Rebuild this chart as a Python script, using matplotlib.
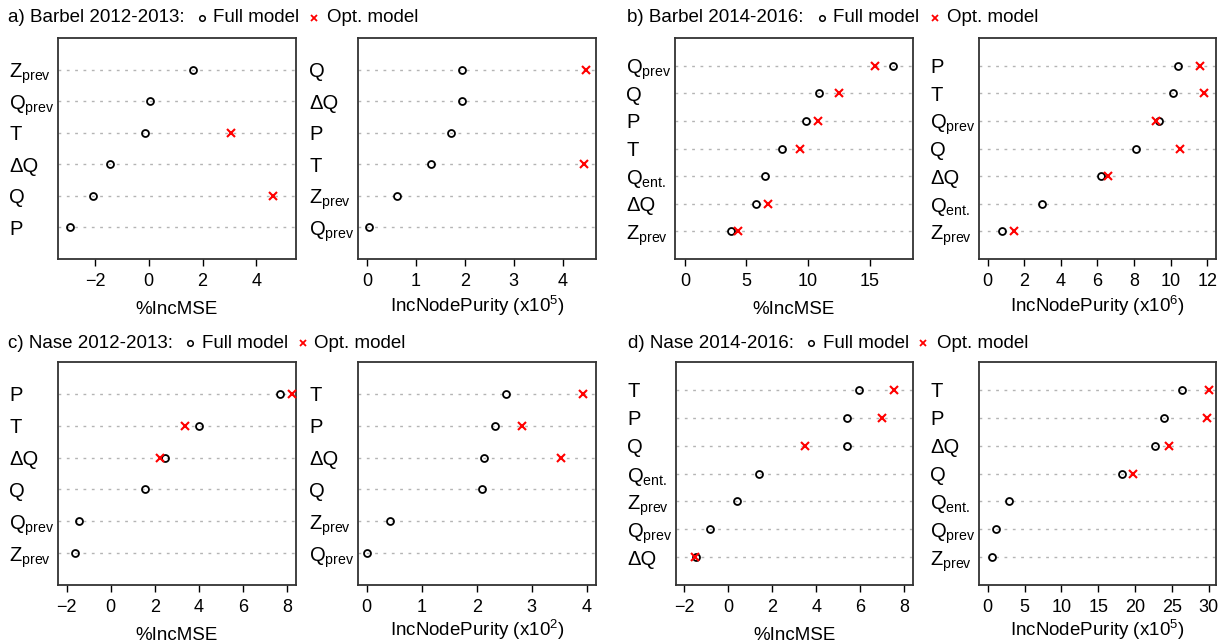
import numpy as np
import matplotlib
matplotlib.use("Agg")
import matplotlib.pyplot as plt
from matplotlib.transforms import ScaledTranslation

plt.rcParams["font.family"] = ["Liberation Sans", "DejaVu Sans"]
plt.rcParams["mathtext.fontset"] = "custom"
plt.rcParams["mathtext.rm"] = "Liberation Sans"

nan = np.nan

# variable order is top row first
a_mse_vars = ["Zprev", "Qprev", "T", "dQ", "Q", "P"]
a_mse_full = [1.65, 0.04, -0.14, -1.44, -2.06, -2.93]
a_mse_opt = [nan, nan, 3.05, nan, 4.62, nan]
a_pur_vars = ["Q", "dQ", "P", "T", "Zprev", "Qprev"]
a_pur_full = [1.95, 1.94, 1.71, 1.32, 0.62, 0.035]
a_pur_opt = [4.47, nan, nan, 4.43, nan, nan]

b_mse_vars = ["Qprev", "Q", "P", "T", "Qent", "dQ", "Zprev"]
b_mse_full = [16.9, 10.93, 9.85, 7.92, 6.54, 5.78, 3.74]
b_mse_opt = [15.46, 12.5, 10.77, 9.36, nan, 6.76, 4.34]
b_pur_vars = ["P", "T", "Qprev", "Q", "dQ", "Qent", "Zprev"]
b_pur_full = [10.38, 10.13, 9.38, 8.09, 6.17, 2.98, 0.76]
b_pur_opt = [11.6, 11.8, 9.18, 10.49, 6.59, nan, 1.45]

c_mse_vars = ["P", "T", "dQ", "Q", "Qprev", "Zprev"]
c_mse_full = [7.67, 4.01, 2.45, 1.55, -1.44, -1.64]
c_mse_opt = [8.26, 3.36, 2.23, nan, nan, nan]
c_pur_vars = ["T", "P", "dQ", "Q", "Zprev", "Qprev"]
c_pur_full = [2.53, 2.34, 2.13, 2.10, 0.43, 0.01]
c_pur_opt = [3.93, 2.83, 3.53, nan, nan, nan]

d_mse_vars = ["T", "P", "Q", "Qent", "Zprev", "Qprev", "dQ"]
d_mse_full = [5.95, 5.41, 5.38, 1.38, 0.39, -0.82, -1.45]
d_mse_opt = [7.52, 6.98, 3.5, nan, nan, nan, -1.53]
d_pur_vars = ["T", "P", "dQ", "Q", "Qent", "Qprev", "Zprev"]
d_pur_full = [26.38, 23.89, 22.71, 18.27, 2.89, 1.13, 0.63]
d_pur_opt = [30.0, 29.81, 24.61, 19.77, nan, nan, nan]

LABELS = {
    "Zprev": r"$\mathregular{Z_{prev}}$",
    "Qprev": r"$\mathregular{Q_{prev}}$",
    "Qent": r"$\mathregular{Q_{ent.}}$",
    "dQ": "\u0394Q",
    "Q": "Q",
    "P": "P",
    "T": "T",
}

W, H = 1227, 642
fig = plt.figure(figsize=(W / 100, H / 100), dpi=100)


def add_axes_px(x0, y0, x1, y1):
    return fig.add_axes([x0 / W, 1 - y1 / H, (x1 - x0) / W, (y1 - y0) / H])


def dotchart(ax, names, full, opt, xlim, xticks, xlabel, label_drop):
    n = len(names)
    ypos = np.arange(n, 0, -1)
    for y in ypos:
        ax.axhline(y, color="#b4b4b4", lw=1.0, ls=(0, (2, 4)), zorder=1)
    ax.plot(full, ypos, "o", ms=5, mfc="none", mec="black", mew=1.3, zorder=3)
    ax.plot(opt, ypos, "x", ms=6, mec="red", mew=1.5, zorder=4)
    ax.set_xlim(*xlim)
    ax.set_ylim(0, n + 1)
    ax.set_xticks(xticks)
    ax.set_yticks(ypos)
    ax.set_yticklabels([LABELS[v] for v in names], fontsize=14.5, ha="left")
    ax.tick_params(axis="y", length=0, pad=35)
    ax.tick_params(axis="x", length=5, width=1.0, pad=5, labelsize=13)
    # x label placed by baseline a fixed distance below the frame
    shift = ScaledTranslation(0, -label_drop / 100, fig.dpi_scale_trans)
    ax.text(0.5, 0, xlabel, transform=ax.transAxes + shift, ha="center",
            va="baseline", fontsize=13.5)
    for sp in ax.spines.values():
        sp.set_linewidth(1.3)
        sp.set_color("#333333")


mse_label = "%IncMSE"

ax = add_axes_px(58, 38, 296, 259)
dotchart(ax, a_mse_vars, a_mse_full, a_mse_opt, (-3.37, 5.47), [-2, 0, 2, 4],
         mse_label, 55)
ax = add_axes_px(358, 38, 596, 259)
dotchart(ax, a_pur_vars, a_pur_full, a_pur_opt, (-0.18, 4.68), [0, 1, 2, 3, 4],
         r"IncNodePurity (x10$\mathregular{^5}$)", 53)
ax = add_axes_px(675, 38, 913, 259)
dotchart(ax, b_mse_vars, b_mse_full, b_mse_opt, (-0.81, 18.53), [0, 5, 10, 15],
         mse_label, 55)
ax = add_axes_px(979, 38, 1216, 259)
dotchart(ax, b_pur_vars, b_pur_full, b_pur_opt, (-0.47, 12.47), list(range(0, 13, 2)),
         r"IncNodePurity (x10$\mathregular{^6}$)", 53)

ax = add_axes_px(58, 362, 296, 585)
dotchart(ax, c_mse_vars, c_mse_full, c_mse_opt, (-2.40, 8.42), [-2, 0, 2, 4, 6, 8],
         mse_label, 55)
ax = add_axes_px(358, 362, 596, 585)
dotchart(ax, c_pur_vars, c_pur_full, c_pur_opt, (-0.16, 4.17), [0, 1, 2, 3, 4],
         r"IncNodePurity (x10$\mathregular{^2}$)", 51)
ax = add_axes_px(676, 362, 913, 585)
dotchart(ax, d_mse_vars, d_mse_full, d_mse_opt, (-2.38, 8.40), [-2, 0, 2, 4, 6, 8],
         mse_label, 55)
ax = add_axes_px(979, 362, 1216, 585)
dotchart(ax, d_pur_vars, d_pur_full, d_pur_opt, (-1.18, 31.0), list(range(0, 31, 5)),
         r"IncNodePurity (x10$\mathregular{^5}$)", 51)


def header(title, x_title, x_circ, x_full, x_cross, x_opt, y):
    fy = 1 - y / H
    fig.text(x_title / W, fy, title, fontsize=13.5, va="center", ha="left")
    fig.lines.append(plt.Line2D([x_circ / W], [fy], marker="o", ms=4, mfc="none",
                                mec="black", mew=1.1, transform=fig.transFigure))
    fig.text(x_full / W, fy, "Full model", fontsize=13.5, va="center", ha="left")
    fig.lines.append(plt.Line2D([x_cross / W], [fy], marker="x", ms=5, mec="red",
                                mew=1.3, transform=fig.transFigure))
    fig.text(x_opt / W, fy, "Opt. model", fontsize=13.5, va="center", ha="left")


header("a) Barbel 2012-2013:", 8, 202, 213, 314, 327, 18)
header("b) Barbel 2014-2016:", 627, 822, 833, 935, 947, 18)
header("c) Nase 2012-2013:", 8, 190, 202, 303, 314, 343)
header("d) Nase 2014-2016:", 628, 811, 823, 923, 937, 343)

fig.savefig("out.png", dpi=100)
